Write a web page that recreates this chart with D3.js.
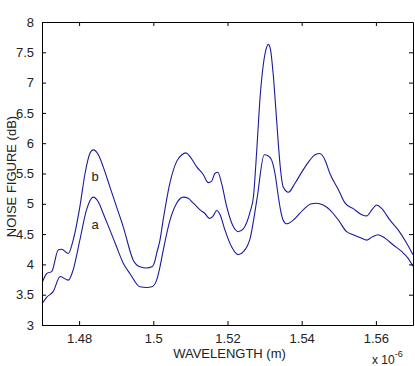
<!DOCTYPE html>
<html>
<head>
<meta charset="utf-8">
<script src="https://cdn.jsdelivr.net/npm/d3@7"></script>
<style>
  body { margin: 0; background: #fff; }
  svg { display: block; }
  text { font-family: "Liberation Sans", Arial, sans-serif; fill: #222; }
</style>
</head>
<body>
<svg id="chart" width="415" height="366"></svg>
<script>
// wavelength in units of 1e-6 m, noise figure in dB
const waveB = [1.4700, 1.4713, 1.4726, 1.4744, 1.4753, 1.4771, 1.4784, 1.4802, 1.4816, 1.4829,
  1.4838, 1.4852, 1.4865, 1.4883, 1.4901, 1.4919, 1.4946, 1.4964, 1.4982, 1.4996,
  1.5005, 1.5009, 1.5018, 1.5027, 1.5045, 1.5063, 1.5077, 1.5088, 1.5099, 1.5117,
  1.5135, 1.5148, 1.5157, 1.5166, 1.5174, 1.5184, 1.5198, 1.5216, 1.5229, 1.5243,
  1.5261, 1.5270, 1.5279, 1.5288, 1.5297, 1.5306, 1.5310, 1.5316, 1.5323, 1.5333,
  1.5342, 1.5350, 1.5364, 1.5382, 1.5404, 1.5422, 1.5436, 1.5449, 1.5463, 1.5476,
  1.5499, 1.5517, 1.5539, 1.5562, 1.5575, 1.5589, 1.5602, 1.5616, 1.5638, 1.5660,
  1.5683, 1.5700];
const nfB = [3.69, 3.85, 3.88, 4.24, 4.25, 4.18, 4.40, 4.95, 5.50, 5.83,
  5.89, 5.81, 5.61, 5.28, 4.95, 4.62, 4.07, 3.96, 3.94, 3.96,
  4.07, 4.18, 4.40, 4.75, 5.35, 5.70, 5.81, 5.84, 5.78, 5.61,
  5.48, 5.35, 5.37, 5.50, 5.52, 5.34, 4.95, 4.62, 4.54, 4.59,
  4.87, 5.12, 5.90, 6.77, 7.32, 7.59, 7.63, 7.54, 7.15, 6.33,
  5.62, 5.28, 5.19, 5.34, 5.56, 5.72, 5.81, 5.83, 5.72, 5.50,
  5.23, 5.01, 4.92, 4.82, 4.80, 4.90, 4.98, 4.92, 4.73, 4.57,
  4.35, 4.16];

const waveA = [1.4700, 1.4713, 1.4730, 1.4749, 1.4771, 1.4784, 1.4802, 1.4820, 1.4838, 1.4852,
  1.4865, 1.4883, 1.4901, 1.4919, 1.4937, 1.4964, 1.4982, 1.4996, 1.5009, 1.5018,
  1.5027, 1.5045, 1.5063, 1.5081, 1.5094, 1.5108, 1.5126, 1.5139, 1.5151, 1.5160,
  1.5171, 1.5180, 1.5193, 1.5211, 1.5229, 1.5243, 1.5261, 1.5279, 1.5299, 1.5310,
  1.5319, 1.5328, 1.5337, 1.5342, 1.5350, 1.5360, 1.5377, 1.5404, 1.5426, 1.5440,
  1.5458, 1.5476, 1.5499, 1.5521, 1.5539, 1.5562, 1.5575, 1.5589, 1.5606, 1.5625,
  1.5647, 1.5670, 1.5687, 1.5700];
const nfA = [3.35, 3.46, 3.55, 3.80, 3.74, 3.91, 4.40, 4.90, 5.11, 5.03,
  4.84, 4.57, 4.29, 4.02, 3.85, 3.63, 3.62, 3.63, 3.74, 3.96,
  4.24, 4.73, 5.01, 5.11, 5.09, 5.01, 4.90, 4.84, 4.76, 4.79,
  4.89, 4.82, 4.57, 4.29, 4.16, 4.21, 4.43, 5.06, 5.81, 5.79,
  5.72, 5.50, 5.12, 4.93, 4.73, 4.67, 4.73, 4.90, 5.00, 5.01,
  4.98, 4.90, 4.73, 4.54, 4.49, 4.43, 4.40, 4.45, 4.49, 4.43,
  4.32, 4.21, 4.10, 3.97];

const xTicks = [1.48, 1.50, 1.52, 1.54, 1.56];
const xTickLabels = ["1.48", "1.5", "1.52", "1.54", "1.56"];
const yTicks = [3, 3.5, 4, 4.5, 5, 5.5, 6, 6.5, 7, 7.5, 8];

const curveLabels = [
  { name: "b", wave: 1.4843, nf: 5.45 },
  { name: "a", wave: 1.4843, nf: 4.66 }
];

const svg = d3.select("#chart");
const m = { left: 42, right: 413, top: 22, bottom: 325 };

const x = d3.scaleLinear().domain([1.47, 1.57]).range([m.left, m.right]);
const y = d3.scaleLinear().domain([3, 8]).range([m.bottom, m.top]);

// clip for the curves
svg.append("clipPath").attr("id", "clip")
  .append("rect")
  .attr("x", m.left).attr("y", m.top)
  .attr("width", m.right - m.left).attr("height", m.bottom - m.top);

const line = d3.line()
  .x(d => x(d[0]))
  .y(d => y(d[1]))
  .curve(d3.curveMonotoneX);

const series = [
  d3.zip(waveA, nfA),
  d3.zip(waveB, nfB)
];

svg.append("g")
  .attr("clip-path", "url(#clip)")
  .selectAll("path")
  .data(series)
  .join("path")
  .attr("fill", "none")
  .attr("stroke", "#1a1a9c")
  .attr("stroke-width", 1.1)
  .attr("d", line);

// axes, ticks pointing inward
const tickLen = 4;

const xAxisB = d3.axisBottom(x).tickValues(xTicks)
  .tickFormat((d, i) => xTickLabels[i]).tickSizeInner(-tickLen).tickSizeOuter(0).tickPadding(9);
const xAxisT = d3.axisTop(x).tickValues(xTicks)
  .tickFormat("").tickSizeInner(-tickLen).tickSizeOuter(0);
const yAxisL = d3.axisLeft(y).tickValues(yTicks)
  .tickFormat(d => String(d)).tickSizeInner(-tickLen).tickSizeOuter(0).tickPadding(8);
const yAxisR = d3.axisRight(y).tickValues(yTicks)
  .tickFormat("").tickSizeInner(-tickLen).tickSizeOuter(0);

function style(g) {
  g.select(".domain").attr("stroke", "#000");
  g.selectAll(".tick line").attr("stroke", "#000");
  g.selectAll(".tick text")
    .attr("font-family", "'Liberation Sans', Arial, sans-serif")
    .attr("font-size", 13)
    .attr("fill", "#222");
}

svg.append("g").attr("transform", `translate(0,${m.bottom})`).call(xAxisB).call(style);
svg.append("g").attr("transform", `translate(0,${m.top})`).call(xAxisT).call(style);
svg.append("g").attr("transform", `translate(${m.left},0)`).call(yAxisL).call(style);
svg.append("g").attr("transform", `translate(${m.right},0)`).call(yAxisR).call(style);

// curve labels
svg.append("g")
  .selectAll("text")
  .data(curveLabels)
  .join("text")
  .attr("x", d => x(d.wave))
  .attr("y", d => y(d.nf))
  .attr("dy", "0.35em")
  .attr("text-anchor", "middle")
  .attr("font-size", 13)
  .text(d => d.name);

// axis titles
svg.append("text")
  .attr("x", (m.left + m.right) / 2 + 2)
  .attr("y", 358)
  .attr("text-anchor", "middle")
  .attr("font-size", 13)
  .text("WAVELENGTH (m)");

svg.append("text")
  .attr("transform", `translate(16,${(m.top + m.bottom) / 2 + 3}) rotate(-90)`)
  .attr("text-anchor", "middle")
  .attr("font-size", 13)
  .text("NOISE FIGURE (dB)");

const expo = svg.append("text")
  .attr("x", 372)
  .attr("y", 364)
  .attr("font-size", 12);
expo.append("tspan").text("x 10");
expo.append("tspan").attr("dy", -7).attr("font-size", 9).text("-6");
</script>
</body>
</html>
